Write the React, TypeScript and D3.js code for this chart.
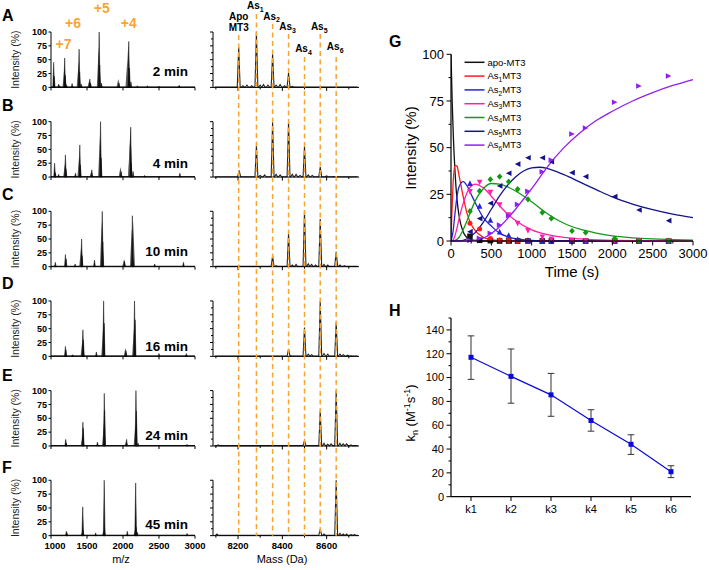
import React from "react";
import * as d3 from "d3";

const FONT = "Liberation Sans, Arial, Helvetica, sans-serif";
const ORANGE = "#f6a633";

// ---------- Panels A–F : ESI-MS spectra ----------
const panelLetters = ["A", "B", "C", "D", "E", "F"];
const panelTimeLabels = ["2 min", "4 min", "10 min", "16 min", "24 min", "45 min"];
const mzTicks = [1000, 1500, 2000, 2500, 3000];
const massMajorTicks = [8200, 8400, 8600];
const massMinorTicks = [8100, 8300, 8500, 8700];
const intensityTicks = [0, 25, 50, 75, 100];
const chargeLabels = ["+7", "+6", "+5", "+4"];
const speciesNames = ["Apo", "As1", "As2", "As3", "As4", "As5", "As6"];
const speciesMass = [8203, 8283, 8356, 8428, 8500, 8571, 8643];

// m/z spectra: [m/z, intensity] black trace and grey trace
const mzBlack = [
  [[1037, 45], [1045, 20], [1106, 6], [1120, 3], [1190, 53], [1198, 22], [1215, 5], [1293, 7], [1390, 69], [1398, 28], [1420, 6], [1539, 15], [1550, 8], [1669, 100], [1677, 40], [1700, 8], [1943, 8], [2080, 83], [2090, 35], [2110, 10], [2200, 3], [2339, 3], [2500, 2], [2780, 4]],
  [[1050, 25], [1060, 8], [1106, 5], [1200, 40], [1208, 15], [1340, 7], [1400, 58], [1408, 22], [1567, 13], [1688, 100], [1696, 35], [1972, 10], [2107, 90], [2115, 25], [2140, 10], [2300, 3], [2500, 2], [2790, 7]],
  [[1060, 8], [1200, 22], [1210, 14], [1335, 5], [1425, 50], [1432, 20], [1604, 12], [1712, 100], [1720, 45], [2020, 10], [2130, 92], [2138, 15], [2440, 5], [2840, 8]],
  [[1200, 18], [1207, 12], [1300, 3], [1443, 48], [1450, 30], [1630, 8], [1731, 100], [1738, 60], [2040, 10], [2160, 100], [2168, 66], [2500, 5], [2880, 5]],
  [[1205, 12], [1212, 5], [1443, 43], [1448, 32], [1645, 7], [1740, 95], [1745, 64], [2050, 12], [2180, 100], [2186, 63], [2210, 5], [2890, 3]],
  [[1213, 8], [1222, 5], [1441, 52], [1446, 10], [1620, 5], [1739, 100], [1744, 13], [2060, 8], [2176, 95], [2182, 15], [2200, 6], [2890, 4]],
];
const mzGrey = [
  [[1185, 35], [1383, 45], [1532, 13], [1662, 72], [1935, 15], [2060, 50], [2072, 78]],
  [[1195, 25], [1393, 40], [1560, 10], [1680, 75], [1965, 18], [2095, 60], [2102, 88]],
  [[1418, 35], [1705, 82], [2015, 14], [2122, 70], [2140, 83]],
  [[1437, 30], [1725, 55], [2035, 15], [2152, 50]],
  [[1438, 20], [1735, 40], [2045, 8], [2173, 40]],
  [[1435, 8], [1733, 10], [2170, 12]],
];
// deconvoluted mass spectra: [mass, intensity]
const massPeaks = [
  [[8203, 73], [8222, 3], [8240, 4], [8262, 3], [8283, 99], [8300, 4], [8315, 5], [8335, 4], [8356, 60], [8372, 4], [8390, 5], [8410, 3], [8428, 26], [8445, 2], [8500, 1]],
  [[8205, 12], [8283, 57], [8300, 3], [8320, 4], [8356, 99], [8372, 5], [8390, 4], [8428, 100], [8445, 5], [8462, 5], [8480, 3], [8500, 55], [8517, 4], [8535, 3], [8571, 18], [8600, 2], [8630, 1]],
  [[8356, 19], [8372, 2], [8428, 60], [8445, 3], [8462, 4], [8500, 100], [8517, 5], [8532, 4], [8550, 3], [8571, 86], [8588, 4], [8605, 3], [8643, 27], [8660, 3], [8680, 2]],
  [[8428, 13], [8440, 1], [8500, 52], [8517, 4], [8532, 3], [8571, 100], [8588, 5], [8605, 4], [8643, 61], [8660, 4], [8675, 3], [8695, 2], [8710, 1]],
  [[8110, 2], [8500, 10], [8571, 64], [8588, 5], [8605, 3], [8620, 4], [8643, 100], [8660, 5], [8675, 4], [8690, 4], [8710, 2]],
  [[8105, 3], [8571, 12], [8588, 3], [8643, 100], [8660, 4], [8675, 3], [8690, 3], [8710, 2], [8725, 2]],
];

// ---------- Panel G : kinetics ----------
const gSeriesNames = ["apo-MT3", "As1MT3", "As2MT3", "As3MT3", "As4MT3", "As5MT3", "As6MT3"];
const gColors = ["#111111", "#ff1a1a", "#2424d6", "#ff1fa8", "#139a13", "#141488", "#8f1ff2"];
const gXTicks = [0, 500, 1000, 1500, 2000, 2500, 3000];
const gYTicks = [0, 25, 50, 75, 100];
const gTimes = [235, 355, 488, 603, 715, 826, 954, 1132, 1244, 1500, 1669, 2029, 2330, 2698];
const gApoPts = [2.5, 0.4, 0.2, 0, 0, 0, 0, 0, 0, 0, 0, 0, 0, 0];
const gAs1Pts = [9.5, 6.4, 1.4, 0.5, 0.3, 0, 0, 0, 0, 0, 0, 0, 0, 0];
const gAs2Pts = [31, 18.8, 11.3, 5, 3.2, 1, 0.5, 0, 0, 0, 0, 0, 0, 0];
const gAs3Pts = [26.4, 31.3, 25.9, 19.3, 13.9, 9.3, 5.4, 2, 0.9, 0.3, 0, 0, 0, 0];
const gAs4Pts = [15.9, 26.8, 33, 34.5, 31.8, 27.7, 22.3, 15.2, 12.1, 5.4, 4.5, 1.4, 0.2, 0.2];
const gAs5Pts = [5, 12, 20.2, 29.5, 36.3, 41.2, 44.6, 44.6, 42.5, 36.6, 34.5, 23.8, 16.6, 10.9];
const gAs6Pts = [0.3, 1.4, 4.1, 8.6, 13.5, 19.6, 26.6, 37.1, 43.4, 57.3, 60.5, 74.3, 83, 88.4];
// fitted curves [time, intensity]
const fitApo = [[0, 100], [15, 74], [30, 55], [50, 37], [75, 22], [100, 13.5], [150, 5], [200, 1.8], [250, 0.7], [300, 0.2], [400, 0], [3000, 0]];
const fitAs1 = [[0, 0], [10, 14], [25, 30], [50, 40.5], [75, 40], [100, 35], [150, 24], [200, 14.5], [250, 9], [300, 5.5], [400, 2], [500, 0.7], [600, 0.2], [700, 0], [3000, 0]];
const fitAs2 = [[0, 0], [25, 5], [50, 15], [75, 24], [100, 29], [150, 31.8], [200, 29.5], [250, 25], [300, 20.5], [400, 12.5], [500, 8], [600, 4.2], [700, 2.3], [800, 1.2], [1000, 0.3], [1200, 0], [3000, 0]];
const fitAs3 = [[0, 0], [25, 0.5], [50, 3], [75, 7], [100, 12], [150, 20], [200, 26], [250, 29.5], [300, 30.5], [400, 28.5], [500, 24], [600, 19], [700, 14.5], [800, 11], [1000, 6], [1200, 3.4], [1400, 1.9], [1600, 1.1], [1800, 0.6], [2000, 0.3], [2500, 0.1], [3000, 0]];
const fitAs4 = [[0, 0], [50, 0.3], [100, 2], [150, 6], [200, 11], [250, 16.5], [300, 21.5], [400, 28], [500, 30.8], [600, 30.5], [700, 29], [800, 26.8], [1000, 21], [1200, 14.5], [1400, 9.5], [1600, 6.3], [1800, 4.2], [2000, 2.7], [2250, 1.7], [2500, 1.1], [2750, 0.7], [3000, 0.5]];
const fitAs5 = [[0, 0], [100, 0.1], [200, 1.2], [300, 4.5], [400, 10], [500, 17], [600, 24], [700, 29.8], [800, 34.3], [900, 37.5], [1000, 39.2], [1100, 39.5], [1200, 38.8], [1400, 35.5], [1600, 31.5], [1800, 27.5], [2000, 23.6], [2250, 19.8], [2500, 16.8], [2750, 14.4], [3000, 12.5]];
const fitAs6 = [[0, 0], [200, 0], [300, 0.3], [400, 1.5], [500, 4], [600, 7.5], [700, 12], [800, 17], [900, 22.5], [1000, 28], [1100, 34], [1200, 40], [1400, 50], [1600, 58], [1800, 64.5], [2000, 69.5], [2250, 75], [2500, 79.5], [2750, 83.3], [3000, 86.5]];

// ---------- Panel H : rate constants ----------
const kLabels = ["k1", "k2", "k3", "k4", "k5", "k6"];
const kValues = [117, 101, 85.5, 64, 44, 21];
const kErrLow = [98.5, 78.5, 67.5, 55, 35.5, 16];
const kErrHigh = [135, 124, 103.5, 73, 52, 26];
const hYTicks = [0, 20, 40, 60, 80, 100, 120, 140];

// ======================================================
const letterBaselines = [21, 111, 200, 289, 381, 473];
const timeLabelBaselines = [76, 168, 256, 351, 440, 529];

function Sub({ base, sub, rest, size }: { base: string; sub: string; rest?: string; size: number }) {
  return (
    <>
      {base}
      <tspan fontSize={size * 0.7} dy={size * 0.25}>{sub}</tspan>
      <tspan dy={-size * 0.25}>{rest || ""}</tspan>
    </>
  );
}

function Marker({ kind, x, y, color }: { kind: number; x: number; y: number; color: string }) {
  const s = 2.8;
  let d = "";
  if (kind === 0) d = `M${x - s},${y - s}h${2 * s}v${2 * s}h${-2 * s}Z`;
  else if (kind === 2) d = `M${x},${y - s}L${x + s},${y + s}L${x - s},${y + s}Z`;
  else if (kind === 3) d = `M${x - s},${y - s}L${x + s},${y - s}L${x},${y + s}Z`;
  else if (kind === 4) d = `M${x},${y - s - 0.4}L${x + s},${y}L${x},${y + s + 0.4}L${x - s},${y}Z`;
  else if (kind === 5) d = `M${x - s},${y}L${x + s},${y - s}L${x + s},${y + s}Z`;
  else if (kind === 6) d = `M${x + s},${y}L${x - s},${y - s}L${x - s},${y + s}Z`;
  if (kind === 1) return <circle cx={x} cy={y} r={2.5} fill={color} />;
  return <path d={d} fill={color} />;
}

export default function App() {
  const xMz = d3.scaleLinear().domain([1000, 3000]).range([51, 195]);
  const xMass = d3.scaleLinear().domain([8087, 8746]).range([213, 359]);
  const panelTop = (i: number) => 32 + i * 89.65;
  const panelH = 55.4;

  const spectra = panelLetters.map((letter, i) => {
    const top = panelTop(i);
    const y = d3.scaleLinear().domain([0, 100]).range([top + panelH, top]);
    const tri = (m: number, h: number, w: number, sx: d3.ScaleLinear<number, number>) =>
      d3.line()([[sx(m - w), y(0)], [sx(m), y(h)], [sx(m + w), y(0)]]) + "Z";
    const pk = massPeaks[i].slice().sort((a, b) => a[0] - b[0]);
    const pts: [number, number][] = [[xMass(8095), y(0.6)]];
    pk.forEach(([m, h]) => {
      pts.push([xMass(m - 6.5), y(0.6)], [xMass(m), y(h)], [xMass(m + 6.5), y(0.6)]);
    });
    pts.push([xMass(8740), y(0.6)]);
    const trace = d3.line()(pts) || "";
    return (
      <g key={letter}>
        <text x={2} y={letterBaselines[i]} fontSize={16} fontWeight="bold" fontFamily={FONT}>{letter}</text>
        {mzGrey[i].map(([m, h], j) => (
          <path key={"g" + j} d={tri(m, h, 26, xMz)} fill="#5e5e5e" />
        ))}
        {mzBlack[i].map(([m, h], j) => (
          <path key={"b" + j} d={tri(m, h, 12, xMz)} fill="#111" stroke="#111" strokeWidth={0.5} />
        ))}
        <line x1={xMz(1000)} x2={xMz(3000)} y1={y(0.8)} y2={y(0.8)} stroke="#111" strokeWidth={1} />
        <line x1={51} x2={51} y1={top} y2={top + panelH} stroke="#000" strokeWidth={1} />
        <line x1={51} x2={195} y1={top + panelH} y2={top + panelH} stroke="#000" strokeWidth={1} />
        {intensityTicks.map((t) => (
          <g key={t}>
            <line x1={48.5} x2={51} y1={y(t)} y2={y(t)} stroke="#000" />
            <text x={47} y={y(t)} dy="0.35em" textAnchor="end" fontSize={9} fontWeight="bold" fontFamily={FONT}>{t}</text>
          </g>
        ))}
        {mzTicks.map((t) => (
          <line key={t} x1={xMz(t)} x2={xMz(t)} y1={top + panelH} y2={top + panelH + 3} stroke="#000" />
        ))}
        <text transform={`translate(19,${top + panelH / 2}) rotate(-90)`} textAnchor="middle" fontSize={10.5} fill="#222" fontFamily={FONT}>Intensity (%)</text>
        <text x={188} y={timeLabelBaselines[i]} textAnchor="end" fontSize={13.5} fontWeight="bold" fontFamily={FONT}>{panelTimeLabels[i]}</text>
        <path d={trace} fill="none" stroke="#222" strokeWidth={1.1} />
        <line x1={213} x2={213} y1={top} y2={top + panelH} stroke="#000" />
        <line x1={213} x2={359} y1={top + panelH} y2={top + panelH} stroke="#000" />
        {d3.range(0, 101, 12.5).map((t) => (
          <line key={t} x1={t % 25 === 0 ? 210 : 211} x2={213} y1={y(t)} y2={y(t)} stroke="#000" />
        ))}
        {massMajorTicks.map((t) => (
          <line key={t} x1={xMass(t)} x2={xMass(t)} y1={top + panelH} y2={top + panelH + 3.5} stroke="#000" />
        ))}
        {massMinorTicks.map((t) => (
          <line key={t} x1={xMass(t)} x2={xMass(t)} y1={top + panelH} y2={top + panelH + 2} stroke="#000" />
        ))}
      </g>
    );
  });

  const fTop = panelTop(5);
  const fBottom = fTop + panelH;

  const dashTops = [35, 14, 24, 34, 57, 34, 57];
  const labelBase = [20, 9, 19.5, 30, 52, 30, 50];

  // ---------- G ----------
  const gx = d3.scaleLinear().domain([0, 3000]).range([451, 693]);
  const gy = d3.scaleLinear().domain([0, 100]).range([241, 54.3]);
  const gFits = [fitApo, fitAs1, fitAs2, fitAs3, fitAs4, fitAs5, fitAs6];
  const gPts = [gApoPts, gAs1Pts, gAs2Pts, gAs3Pts, gAs4Pts, gAs5Pts, gAs6Pts];
  const gLine = d3.line<number[]>().x((d) => gx(d[0])).y((d) => gy(d[1])).curve(d3.curveMonotoneX);

  // ---------- H ----------
  const hx = d3.scalePoint<string>().domain(kLabels).range([451, 691]).padding(0.5);
  const hy = d3.scaleLinear().domain([0, 150]).range([496.7, 318]);
  const hLine = d3.line<number>().x((_, i) => hx(kLabels[i]) as number).y((d) => hy(d));

  return (
    <svg width={709} height={570} style={{ position: "absolute", left: 0, top: 0, background: "#fff" }} fontFamily={FONT}>
      <rect width={709} height={570} fill="#fff" />
      {spectra}
      {chargeLabels.map((c, i) => (
        <text key={c} x={[63.5, 73, 101.7, 128.7][i]} y={[49, 27.7, 13.3, 27.7][i]} textAnchor="middle" fontSize={14} fontWeight="bold" fill={ORANGE} fontFamily={FONT}>{c}</text>
      ))}
      {speciesMass.map((m, i) => (
        <line key={m} x1={xMass(m)} x2={xMass(m)} y1={dashTops[i]} y2={fBottom} stroke={ORANGE} strokeWidth={1.5} strokeDasharray="5,3.5" />
      ))}
      {speciesNames.map((s, i) =>
        i === 0 ? (
          <g key={s}>
            <text x={xMass(speciesMass[0])} y={20} textAnchor="middle" fontSize={10} fontWeight="bold">Apo</text>
            <text x={xMass(speciesMass[0])} y={31} textAnchor="middle" fontSize={10} fontWeight="bold">MT3</text>
          </g>
        ) : (
          <text key={s} x={xMass(speciesMass[i]) - 1} y={labelBase[i]} textAnchor="middle" fontSize={10} fontWeight="bold">
            <Sub base="As" sub={s.slice(2)} size={10} />
          </text>
        )
      )}
      {mzTicks.map((t, i) => (
        <text key={t} x={xMz(t) + (i === 0 ? 4 : 0)} y={548.5} textAnchor="middle" fontSize={9.5} fontWeight="bold">{t}</text>
      ))}
      {massMajorTicks.map((t) => (
        <text key={t} x={xMass(t)} y={548.5} textAnchor="middle" fontSize={9.5} fontWeight="bold">{t}</text>
      ))}
      <text x={121} y={563} textAnchor="middle" fontSize={11}>m/z</text>
      <text x={282} y={563} textAnchor="middle" fontSize={11}>Mass (Da)</text>

      {/* ===== G ===== */}
      <text x={389} y={47} fontSize={16} fontWeight="bold">G</text>
      <defs>
        <clipPath id="gclip">
          <rect x={451} y={40} width={245} height={202} />
        </clipPath>
      </defs>
      <g clipPath="url(#gclip)">
        {gFits.map((f, i) => (
          <path key={i} d={gLine(f) || ""} fill="none" stroke={gColors[i]} strokeWidth={1.3} />
        ))}
      </g>
      {gPts.map((arr, i) =>
        arr.map((v, j) => <Marker key={i + "-" + j} kind={i} x={gx(gTimes[j])} y={gy(v)} color={gColors[i]} />)
      )}
      <line x1={451} x2={451} y1={54.3} y2={241} stroke="#000" strokeWidth={1.2} />
      <line x1={451} x2={693} y1={241} y2={241} stroke="#000" strokeWidth={1.2} />
      {d3.range(0, 101, 12.5).map((t) => (
        <line key={t} x1={t % 25 === 0 ? 446.5 : 448.5} x2={451} y1={gy(t)} y2={gy(t)} stroke="#000" />
      ))}
      {gYTicks.map((t) => (
        <text key={t} x={444} y={gy(t)} dy="0.35em" textAnchor="end" fontSize={13}>{t}</text>
      ))}
      {d3.range(0, 3001, 250).map((t) => (
        <line key={t} x1={gx(t)} x2={gx(t)} y1={241} y2={t % 500 === 0 ? 245.5 : 243.5} stroke="#000" />
      ))}
      {gXTicks.map((t) => (
        <text key={t} x={gx(t)} y={257.5} textAnchor="middle" fontSize={13}>{t}</text>
      ))}
      <text x={572} y={277} textAnchor="middle" fontSize={15}>Time (s)</text>
      <text transform="translate(416,148) rotate(-90)" textAnchor="middle" fontSize={15}>Intensity (%)</text>
      {gSeriesNames.map((n, i) => {
        const yy = 62.3 + i * 13.8;
        return (
          <g key={n}>
            <line x1={464.5} x2={484.5} y1={yy} y2={yy} stroke={gColors[i]} strokeWidth={1.5} />
            <text x={487.5} y={yy} dy="0.35em" fontSize={9.5}>
              {i === 0 ? n : <Sub base="As" sub={n.slice(2, 3)} rest="MT3" size={9.5} />}
            </text>
          </g>
        );
      })}

      {/* ===== H ===== */}
      <text x={389} y={316} fontSize={16} fontWeight="bold">H</text>
      <path d={hLine(kValues) || ""} fill="none" stroke="#0a0ad8" strokeWidth={1.2} />
      {kValues.map((v, i) => {
        const x = hx(kLabels[i]) as number;
        return (
          <g key={i}>
            <line x1={x} x2={x} y1={hy(kErrLow[i])} y2={hy(kErrHigh[i])} stroke="#333" strokeWidth={1} />
            <line x1={x - 3.3} x2={x + 3.3} y1={hy(kErrLow[i])} y2={hy(kErrLow[i])} stroke="#333" strokeWidth={1} />
            <line x1={x - 3.3} x2={x + 3.3} y1={hy(kErrHigh[i])} y2={hy(kErrHigh[i])} stroke="#333" strokeWidth={1} />
            <rect x={x - 2.5} y={hy(v) - 2.5} width={5} height={5} fill="#0a0ad8" />
          </g>
        );
      })}
      <line x1={451} x2={451} y1={318} y2={496.7} stroke="#000" strokeWidth={1.2} />
      <line x1={451} x2={691} y1={496.7} y2={496.7} stroke="#000" strokeWidth={1.2} />
      {d3.range(0, 151, 10).map((t) => (
        <line key={t} x1={t % 20 === 0 ? 446.5 : 448.5} x2={451} y1={hy(t)} y2={hy(t)} stroke="#000" />
      ))}
      {hYTicks.map((t) => (
        <text key={t} x={444} y={hy(t)} dy="0.35em" textAnchor="end" fontSize={11}>{t}</text>
      ))}
      {kLabels.map((k) => (
        <g key={k}>
          <line x1={hx(k) as number} x2={hx(k) as number} y1={496.7} y2={501} stroke="#000" />
          <text x={hx(k) as number} y={513} textAnchor="middle" fontSize={11}>{k}</text>
        </g>
      ))}
      <text transform="translate(415,413) rotate(-90)" textAnchor="middle" fontSize={13}>
        k<tspan fontSize={9} dy={3}>n</tspan>
        <tspan dy={-3}> (M</tspan>
        <tspan fontSize={9} dy={-5}>-1</tspan>
        <tspan dy={5}>s</tspan>
        <tspan fontSize={9} dy={-5}>-1</tspan>
        <tspan dy={5}>)</tspan>
      </text>
    </svg>
  );
}
